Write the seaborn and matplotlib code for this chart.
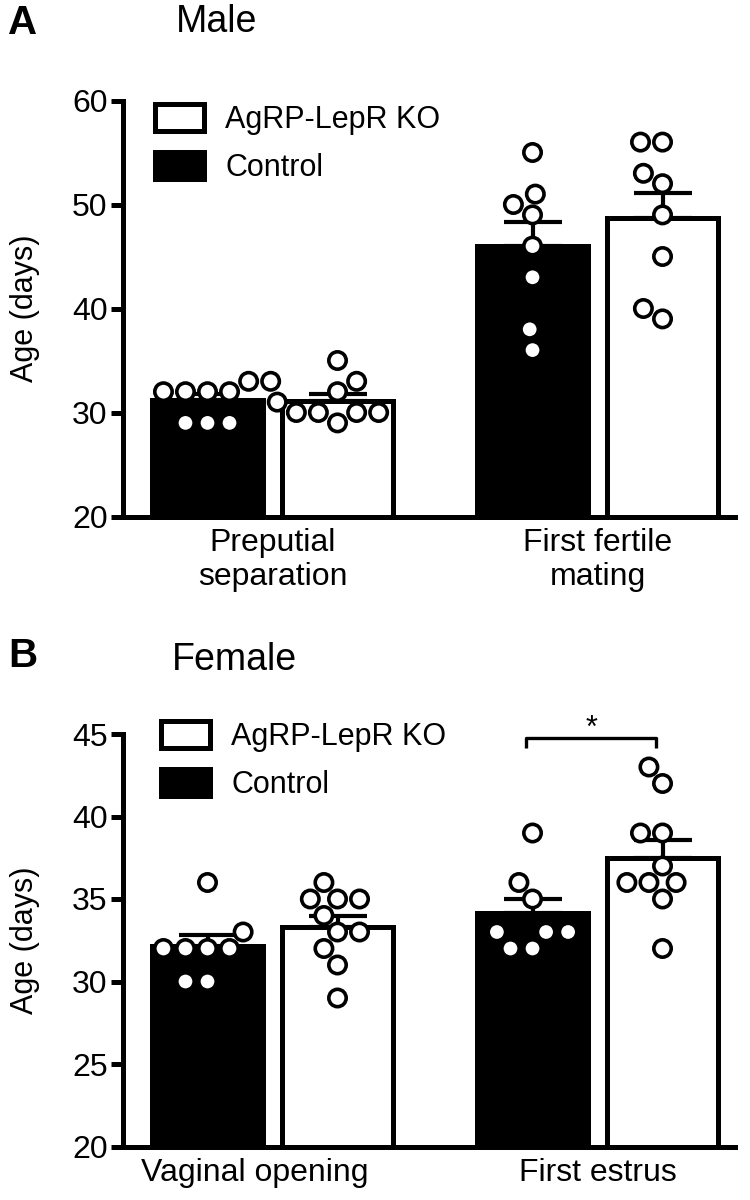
import numpy as np
import pandas as pd
import matplotlib
matplotlib.use("Agg")
import matplotlib.pyplot as plt
import matplotlib.transforms as mtransforms
import seaborn as sns
from matplotlib.patches import Patch

sns.set_theme(style="ticks")
plt.rcParams['font.family'] = ['Liberation Sans', 'DejaVu Sans']
plt.rcParams['text.color'] = 'black'
plt.rcParams['axes.labelcolor'] = 'black'
plt.rcParams['xtick.color'] = 'black'
plt.rcParams['ytick.color'] = 'black'

# ---------------- data ----------------
groups = ["Control", "AgRP-LepR KO"]
legend_order = ["AgRP-LepR KO", "Control"]

male_categories = ["Preputial\nseparation", "First fertile\nmating"]
male_preputial_control = [33, 32, 32, 32, 32, 33, 29, 29, 29]
male_preputial_ko = [35, 33, 32, 31, 30, 30, 30, 30, 29]
male_mating_control = [55, 51, 50, 49, 46, 43, 38, 36]
male_mating_ko = [56, 56, 53, 52, 49, 45, 40, 39]

female_categories = ["Vaginal opening", "First estrus"]
female_vaginal_control = [36, 33, 32, 32, 32, 32, 30, 30]
female_vaginal_ko = [36, 35, 35, 35, 34, 33, 33, 32, 31, 29]
female_estrus_control = [39, 36, 35, 33, 33, 33, 32, 32]
female_estrus_ko = [43, 42, 39, 39, 37, 36, 36, 36, 35, 32]

male_yticks = [20, 30, 40, 50, 60]
female_yticks = [20, 25, 30, 35, 40, 45]


def make_df(categories, series):
    rows = []
    for cat, (ctrl, ko) in zip(categories, series):
        rows += [(cat, "Control", v) for v in ctrl]
        rows += [(cat, "AgRP-LepR KO", v) for v in ko]
    return pd.DataFrame(rows, columns=["cat", "group", "val"])


male_df = make_df(male_categories, [(male_preputial_control, male_preputial_ko),
                                    (male_mating_control, male_mating_ko)])
female_df = make_df(female_categories, [(female_vaginal_control, female_vaginal_ko),
                                        (female_estrus_control, female_estrus_ko)])

W, H = 750, 1200
fig = plt.figure(figsize=(W / 100, H / 100), dpi=100)

LW = 3.6
bar_colors = {"Control": "black", "AgRP-LepR KO": "white"}
pt_colors = {"Control": "white", "AgRP-LepR KO": "white"}


def px_axes(left, right, top, bottom):
    return fig.add_axes([left / W, 1 - bottom / H, (right - left) / W, (bottom - top) / H])


def draw_panel(ax, df, categories, ylim, yticks):
    sns.barplot(data=df, x="cat", y="val", hue="group", order=categories,
                hue_order=groups, palette=bar_colors, errorbar=None,
                edgecolor="black", linewidth=LW, gap=0.15, legend=False,
                ax=ax, zorder=1)
    # mean + SEM (upper only)
    for hi, g in enumerate(groups):
        cont = ax.containers[hi]
        for ci, cat in enumerate(categories):
            vals = df[(df.cat == cat) & (df.group == g)].val.to_numpy()
            m = vals.mean()
            se = vals.std(ddof=1) / np.sqrt(len(vals))
            bar = cont[ci]
            xc = bar.get_x() + bar.get_width() / 2
            ax.errorbar([xc], [m], yerr=[[0], [se]], fmt="none", ecolor="black",
                        elinewidth=3.0, capsize=21, capthick=3.0, zorder=2)
    sns.swarmplot(data=df, x="cat", y="val", hue="group", order=categories,
                  hue_order=groups, palette=pt_colors, dodge=True, size=12.5,
                  edgecolor="black", linewidth=2.6, legend=False, ax=ax, zorder=3)
    ax.set_ylim(*ylim)
    ax.set_yticks(yticks)
    ax.set_xlim(-0.46, 1.423)
    sns.despine(ax=ax)
    for s in ["left", "bottom"]:
        ax.spines[s].set_linewidth(LW)
        ax.spines[s].set_color("black")
    ax.tick_params(axis="y", length=9, width=LW, labelsize=23, colors="black", pad=2)
    ax.tick_params(axis="x", length=0, labelsize=23, colors="black", pad=8)
    ax.set_xlabel("")
    ax.set_ylabel("Age (days)", fontsize=22, color="black", labelpad=23)
    handles = [Patch(facecolor=bar_colors[g], edgecolor="black", linewidth=LW, label=g)
               for g in legend_order]
    return handles


axA = px_axes(123, 735, 100.5, 516.5)
hA = draw_panel(axA, male_df, male_categories, (20, 60), male_yticks)
axA.legend(handles=hA, loc="upper left", bbox_to_anchor=(155 / W, 1 - 104 / H),
           bbox_transform=fig.transFigure, frameon=False, fontsize=22,
           handlelength=1.6, handleheight=1.0, handletextpad=0.7,
           labelspacing=0.55, borderpad=0, borderaxespad=0)

axB = px_axes(123, 735, 734, 1146.5)
hB = draw_panel(axB, female_df, female_categories, (20, 45), female_yticks)
axB.legend(handles=hB, loc="upper left", bbox_to_anchor=(161 / W, 1 - 721 / H),
           bbox_transform=fig.transFigure, frameon=False, fontsize=22,
           handlelength=1.6, handleheight=1.0, handletextpad=0.7,
           labelspacing=0.55, borderpad=0, borderaxespad=0)

# shift the "Vaginal opening" label slightly left, as in the figure
lbl = axB.get_xticklabels()[0]
lbl.set_transform(lbl.get_transform() + mtransforms.ScaledTranslation(-18 / 100, 0, fig.dpi_scale_trans))

# significance bracket on First estrus
c0 = axB.containers[0][1]
c1 = axB.containers[1][1]
x0 = c0.get_x() + c0.get_width() / 2 - 0.02
x1 = c1.get_x() + c1.get_width() / 2 - 0.02
yb = 44.75
axB.plot([x0, x0, x1, x1], [yb - 0.6, yb, yb, yb - 0.6], color="black", lw=2.4,
         clip_on=False, solid_capstyle="butt")
axB.text((x0 + x1) / 2, yb - 0.35, "*", ha="center", va="bottom", fontsize=22,
         color="black")

# panel letters and titles
fig.text(8 / W, 1 - 23 / H, "A", fontsize=29, fontweight="bold", ha="left", va="center")
fig.text(176 / W, 1 - 22 / H, "Male", fontsize=27, ha="left", va="center")
fig.text(8 / W, 1 - 656 / H, "B", fontsize=29, fontweight="bold", ha="left", va="center")
fig.text(172 / W, 1 - 660 / H, "Female", fontsize=27, ha="left", va="center")

fig.savefig("out.png", dpi=100, facecolor="white")
